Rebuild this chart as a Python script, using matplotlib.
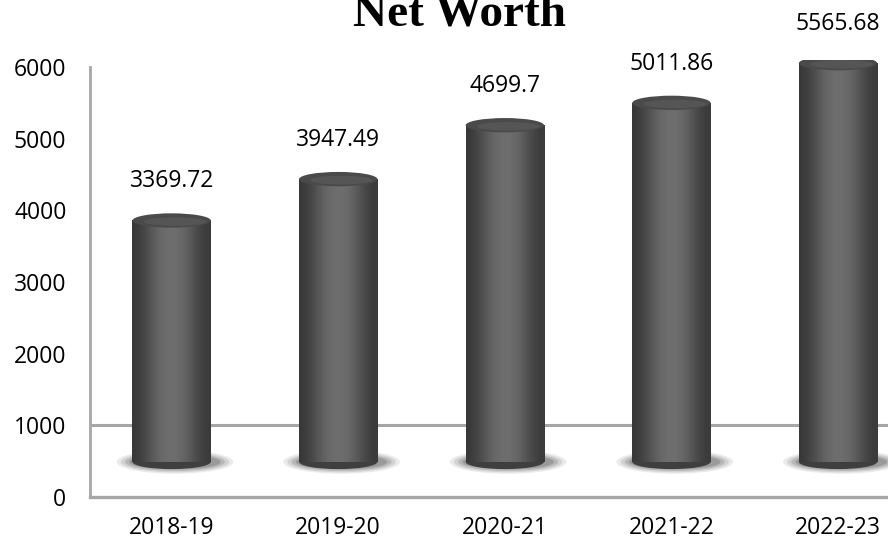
import matplotlib
matplotlib.use("Agg")
import matplotlib.pyplot as plt
import numpy as np
from matplotlib.patches import Ellipse

years = ["2018-19", "2019-20", "2020-21", "2021-22", "2022-23"]
net_worth = [3369.72, 3947.49, 4699.7, 5011.86, 5565.68]
y_ticks = [0, 1000, 2000, 3000, 4000, 5000, 6000]

# the 3D floor of the original chart lifts every cylinder off zero
floor = 490

plt.rcParams["font.family"] = ["Open Sans", "DejaVu Sans"]

fig = plt.figure(figsize=(8.88, 5.46), dpi=100)
ax = fig.add_axes([90 / 888, 49 / 546, 798 / 888, 437 / 546])
ax.set_xlim(-0.49, 4.30)
ax.set_ylim(0, 6100)

bar_w = 0.47
cap_h = 200
gray = "#a6a6a6"
fs = 16.5

# horizontal shading for a cylinder look
shade = np.array([0.22, 0.26, 0.31, 0.37, 0.41, 0.43, 0.43, 0.41, 0.37, 0.31, 0.26, 0.23])
grad = np.tile(shade, (2, 1))

ax.axhline(1000, color=gray, lw=2.2, zorder=1)

for i, v in enumerate(net_worth):
    # soft shadow under the base
    for k, a in enumerate([0.12, 0.16, 0.22, 0.30]):
        ax.add_patch(Ellipse((i + 0.02, floor), 0.70 - k * 0.05, 330 - k * 40,
                             color="#5a5a5a", alpha=a, lw=0, zorder=2))
    bars = ax.bar(i, v, width=bar_w, bottom=floor, color="#474747", zorder=3)
    body = bars[0]
    im = ax.imshow(grad, cmap="gray", vmin=0, vmax=1, aspect="auto",
                   extent=(i - bar_w / 2, i + bar_w / 2, floor, floor + v),
                   interpolation="bicubic", zorder=4)
    im.set_clip_path(body)
    ax.add_patch(Ellipse((i, floor), bar_w, cap_h, color="#3f3f3f", lw=0, zorder=3.5))
    ax.add_patch(Ellipse((i, floor + v), bar_w, cap_h, color="#4a4a4a", lw=0, zorder=5))
    ax.add_patch(Ellipse((i + 0.02, floor + v - 15), bar_w * 0.8, cap_h * 0.6,
                         color="#555555", lw=0, zorder=5))
    ax.annotate(f"{v:g}", (i, floor + v), xytext=(0, 24), textcoords="offset points",
                ha="center", va="baseline", fontsize=fs, color="black", zorder=6)

ax.set_xticks(range(len(years)))
ax.set_xticklabels(years, fontsize=fs)
ax.set_yticks(y_ticks)
ax.set_yticklabels([str(t) for t in y_ticks], fontsize=fs)
ax.tick_params(axis="both", length=0, colors="black")
ax.tick_params(axis="y", pad=17)
ax.tick_params(axis="x", pad=14)

for s in ["top", "right"]:
    ax.spines[s].set_visible(False)
ax.spines["left"].set_bounds(0, 6000)
ax.spines["left"].set_color(gray)
ax.spines["left"].set_linewidth(2)
ax.spines["bottom"].set_color(gray)
ax.spines["bottom"].set_linewidth(2.4)

fig.text(0.518, 521 / 546, "Net Worth", ha="center", va="baseline",
         fontsize=34, fontweight="bold", family=["Liberation Serif", "DejaVu Serif"])

fig.savefig("out.png", dpi=100)
